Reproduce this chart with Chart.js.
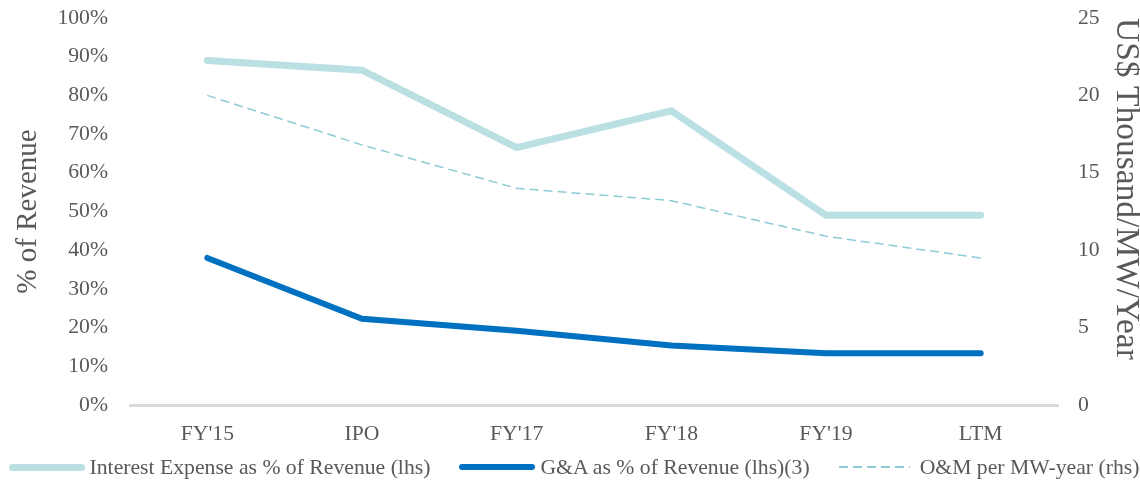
<!DOCTYPE html>
<html>
<head>
<meta charset="utf-8">
<script src="https://cdn.jsdelivr.net/npm/chart.js@4"></script>
<style>
  html, body { margin: 0; padding: 0; background: #fff; }
  #wrap { width: 1140px; height: 480px; position: relative; }
  #legend {
    position: absolute; left: 4px; top: 455px; width: 1140px; height: 24px;
    display: flex; justify-content: center; align-items: center; gap: 29px;
    font-family: 'Liberation Serif', 'DejaVu Serif', serif; font-size: 21.7px; color: #595959;
    white-space: nowrap;
  }
  .item { display: flex; align-items: center; }
  .swatch { width: 76px; margin-right: 5px; }
</style>
</head>
<body>
<div id="wrap">
  <canvas id="myCanvas" width="1140" height="480"></canvas>
  <div id="legend"></div>
</div>
<script>
const labels = ["FY'15", "IPO", "FY'17", "FY'18", "FY'19", "LTM"];
const interestData = [89, 86.5, 66.5, 76, 49, 49];
const gaData = [38, 22.3, 19.2, 15.4, 13.4, 13.4];
const omData = [20, 16.8, 14, 13.2, 10.9, 9.5];

const serif = "'Liberation Serif', 'DejaVu Serif', serif";
const grey = '#595959';
const tickFont = { family: serif, size: 21.7 };

const ctx = document.getElementById('myCanvas').getContext('2d');

const myChart = new Chart(ctx, {
    type: 'line',
    data: {
        labels: labels,
        datasets: [{
            label: 'Interest Expense as % of Revenue (lhs)',
            data: interestData,
            borderColor: '#BAE0E3',
            borderWidth: 7,
            borderCapStyle: 'round',
            pointRadius: 0,
            yAxisID: 'y',
        }, {
            label: 'G&A as % of Revenue (lhs)(3)',
            data: gaData,
            borderColor: '#0070C0',
            borderWidth: 6,
            borderCapStyle: 'round',
            pointRadius: 0,
            yAxisID: 'y',
        }, {
            label: 'O&M per MW-year (rhs)',
            data: omData,
            borderColor: '#8DCBD4',
            borderWidth: 1.5,
            borderDash: [9, 5],
            pointRadius: 0,
            yAxisID: 'y1',
        }]
    },
    options: {
        responsive: false,
        animation: false,
        layout: { padding: { top: 18, bottom: 30 } },
        plugins: {
            tooltip: { enabled: false },
            legend: { display: false }
        },
        scales: {
            x: {
                offset: true,
                grid: { display: false, drawTicks: false },
                border: { display: true, color: '#D9D9D9', width: 3 },
                ticks: { color: grey, font: tickFont, padding: 16 },
                afterFit: (s) => { s.height = 45; }
            },
            y: {
                position: 'left',
                min: 0,
                max: 100,
                grid: { display: false, drawTicks: false },
                border: { display: false },
                ticks: {
                    stepSize: 10,
                    padding: 22,
                    color: grey,
                    font: tickFont,
                    callback: (v) => v + '%'
                },
                title: {
                    display: true,
                    text: '% of Revenue',
                    color: grey,
                    padding: { top: 11, bottom: 0 },
                    font: { family: serif, size: 29, lineHeight: 1.2 }
                },
                afterFit: (s) => { s.width = 130; s.paddingTop = 0; s.paddingBottom = 0; }
            },
            y1: {
                position: 'right',
                min: 0,
                max: 25,
                grid: { display: false, drawTicks: false },
                border: { display: false },
                ticks: {
                    stepSize: 5,
                    padding: 20,
                    color: grey,
                    font: tickFont
                },
                title: {
                    display: true,
                    text: 'US$ Thousand/MW/Year',
                    align: 'end',
                    color: grey,
                    padding: 0,
                    font: { family: serif, size: 33.5, lineHeight: 0.85 }
                },
                afterFit: (s) => { s.width = 82; s.paddingTop = 0; s.paddingBottom = 0; }
            }
        }
    }
});

// html legend built from the datasets
const legendBox = document.getElementById('legend');
myChart.data.datasets.forEach((ds) => {
    const item = document.createElement('div');
    item.className = 'item';
    const sw = document.createElement('span');
    sw.className = 'swatch';
    if (ds.borderDash) {
        sw.style.width = '71px';
        sw.style.height = '2px';
        sw.style.background = 'repeating-linear-gradient(to right, ' + ds.borderColor + ' 0 9px, transparent 9px 14px)';
        sw.style.marginRight = '10px';
    } else {
        sw.style.height = ds.borderWidth + 'px';
        sw.style.borderRadius = ds.borderWidth + 'px';
        sw.style.background = ds.borderColor;
    }
    const txt = document.createElement('span');
    txt.textContent = ds.label;
    item.appendChild(sw);
    item.appendChild(txt);
    legendBox.appendChild(item);
});
</script>
</body>
</html>
